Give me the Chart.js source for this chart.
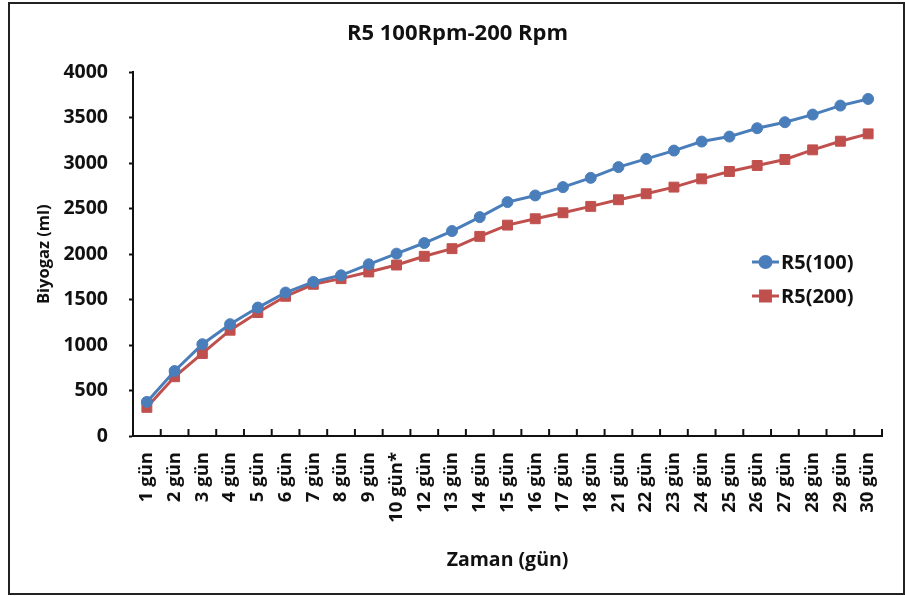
<!DOCTYPE html>
<html>
<head>
<meta charset="utf-8">
<script src="https://cdn.jsdelivr.net/npm/chart.js@4/dist/chart.umd.min.js"></script>
<style>
    body { margin: 0; background: #fff; }
    #wrap { position: relative; width: 905px; height: 596px; }
    #frame {
        position: absolute; left: 8px; top: 2px; width: 893px; height: 589px;
        border: 2px solid #222; pointer-events: none;
    }
</style>
</head>
<body>
<div id="wrap">
    <canvas id="myChart" width="905" height="596"></canvas>
    <div id="frame"></div>
</div>
<script>
const days = ["1 gün", "2 gün", "3 gün", "4 gün", "5 gün", "6 gün", "7 gün", "8 gün", "9 gün", "10 gün*",
    "12 gün", "13 gün", "14 gün", "15 gün", "16 gün", "17 gün", "18 gün", "21 gün", "22 gün", "23 gün",
    "24 gün", "25 gün", "26 gün", "27 gün", "28 gün", "29 gün", "30 gün"];

// biyogaz (ml)
const r5_100 = [375, 715, 1010, 1230, 1413, 1578, 1695, 1768, 1889, 2006,
    2123, 2255, 2408, 2573, 2646, 2738, 2840, 2958, 3049, 3140,
    3239, 3294, 3386, 3452, 3536, 3635, 3708];
const r5_200 = [315, 652, 908, 1164, 1358, 1537, 1669, 1731, 1805, 1881,
    1977, 2061, 2196, 2320, 2390, 2456, 2526, 2599, 2665, 2738,
    2829, 2910, 2976, 3042, 3148, 3243, 3324];

const yTicks = [0, 500, 1000, 1500, 2000, 2500, 3000, 3500, 4000];

const FONT = "'Open Sans', sans-serif";
const BLUE = "rgb(74, 126, 187)";
const RED = "rgb(192, 80, 77)";

// x axis ticks point up into the plot, like the original
const innerTicks = {
    id: "innerTicks",
    afterDraw(chart) {
        const x = chart.scales.x;
        const ctx = chart.ctx;
        const bottom = chart.chartArea.bottom;
        ctx.save();
        ctx.strokeStyle = "#111";
        ctx.lineWidth = 2;
        for (let i = 0; i <= days.length; i++) {
            const px = (x.getPixelForValue(i) + x.getPixelForValue(i - 1)) / 2;
            ctx.beginPath();
            ctx.moveTo(px, bottom);
            ctx.lineTo(px, bottom - 7);
            ctx.stroke();
        }
        ctx.restore();
    }
};

// legend sits inside the plot on the right
const sideLegend = {
    id: "sideLegend",
    afterDraw(chart) {
        const ctx = chart.ctx;
        const x0 = 752, rows = [262, 296];
        ctx.save();
        chart.data.datasets.forEach((ds, i) => {
            const y = rows[i];
            ctx.strokeStyle = ds.borderColor;
            ctx.lineWidth = 3;
            ctx.beginPath();
            ctx.moveTo(x0, y);
            ctx.lineTo(x0 + 27, y);
            ctx.stroke();
            Chart.helpers.drawPoint(ctx, {
                pointStyle: ds.pointStyle, radius: ds.pointRadius, borderWidth: 1
            }, x0 + 13.5, y);
            ctx.fillStyle = ds.backgroundColor;
            ctx.fill();
            ctx.fillStyle = "#111";
            ctx.font = "bold 20px " + FONT;
            ctx.textBaseline = "middle";
            ctx.fillText(ds.label, x0 + 29, y + 1);
        });
        ctx.restore();
    }
};

new Chart(document.getElementById("myChart"), {
    type: "line",
    data: {
        labels: days,
        datasets: [
            {
                label: "R5(100)",
                data: r5_100,
                borderColor: BLUE,
                backgroundColor: BLUE,
                borderWidth: 3,
                pointStyle: "circle",
                pointRadius: 5.5,
                pointBorderWidth: 1,
                tension: 0,
            },
            {
                label: "R5(200)",
                data: r5_200,
                borderColor: RED,
                backgroundColor: RED,
                borderWidth: 3,
                pointStyle: "rect",
                pointRadius: 7,
                pointBorderWidth: 1,
                tension: 0,
            },
        ],
    },
    plugins: [innerTicks, sideLegend],
    options: {
        responsive: false,
        animation: false,
        layout: { padding: { left: 33, right: 23, top: 3, bottom: 16 } },
        plugins: {
            legend: { display: false },
            tooltip: { enabled: false },
            title: {
                display: true,
                text: "R5 100Rpm-200 Rpm",
                color: "#111",
                font: { family: FONT, size: 22, weight: "bold" },
                padding: { top: 18, bottom: 25 },
            },
        },
        scales: {
            x: {
                offset: true,
                afterFit: (s) => { s.height = 144; },
                grid: { display: false },
                border: { display: true, color: "#111", width: 2 },
                ticks: {
                    color: "#111",
                    autoSkip: false,
                    minRotation: 90,
                    maxRotation: 90,
                    padding: 8,
                    font: { family: FONT, size: 18.5, weight: "bold" },
                },
                title: {
                    display: true,
                    text: "Zaman (gün)",
                    color: "#111",
                    font: { family: FONT, size: 19.5, weight: "bold" },
                    padding: { top: 4, bottom: 8 },
                },
            },
            y: {
                min: 0,
                max: 4000,
                afterFit: (s) => { s.width = 100; },
                afterBuildTicks: (s) => { s.ticks = yTicks.map((v) => ({ value: v })); },
                grid: {
                    drawOnChartArea: false,
                    drawTicks: true,
                    tickLength: 4,
                    tickWidth: 2,
                    tickColor: "#111",
                },
                border: { display: true, color: "#111", width: 2 },
                ticks: {
                    color: "#111",
                    padding: 21,
                    callback: (v) => String(v),
                    font: { family: FONT, size: 19.5, weight: "bold" },
                },
                title: {
                    display: true,
                    text: "Biyogaz (ml)",
                    color: "#111",
                    font: { family: FONT, size: 16.5, weight: "bold" },
                    padding: { top: 1, bottom: 0 },
                },
            },
        },
    },
});
</script>
</body>
</html>
